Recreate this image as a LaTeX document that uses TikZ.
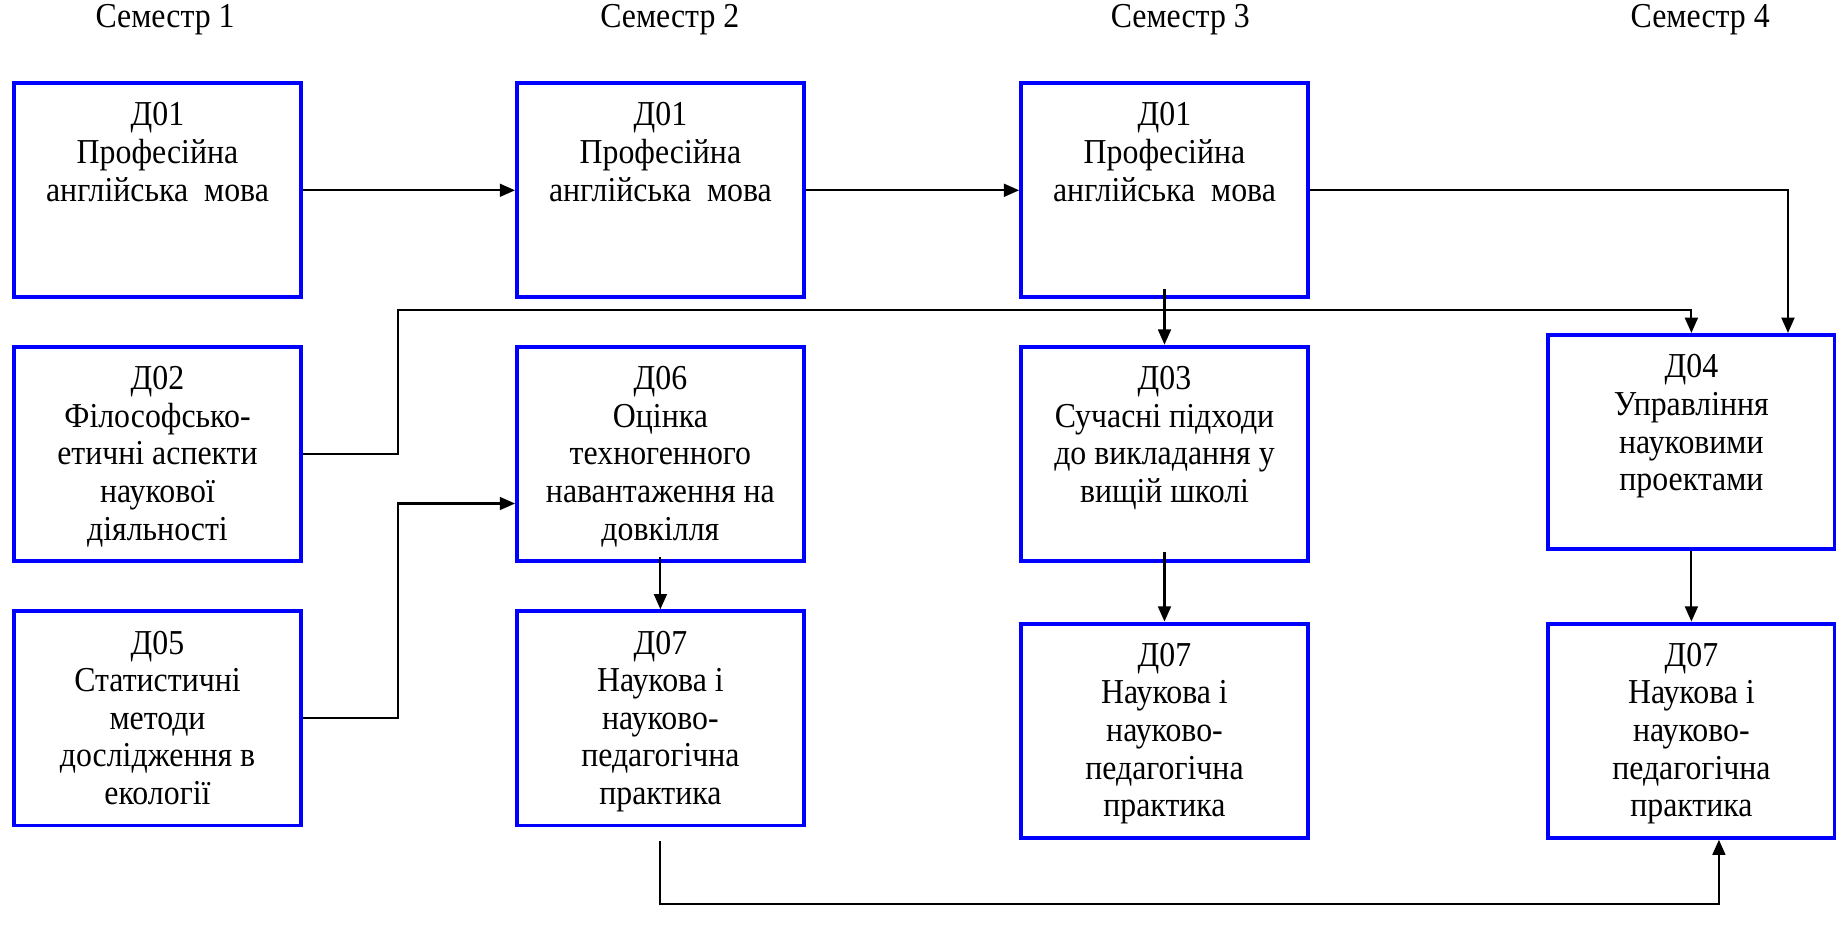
\documentclass[tikz,border=0pt]{standalone}
\usepackage{fontspec}
\setmainfont[FakeStretch=0.91]{Liberation Serif}
\usetikzlibrary{positioning,arrows.meta}

\begin{document}
\begin{tikzpicture}[x=0.02cm, y=-0.02cm,
  every node/.style={font=\fontsize{17}{18.3}\selectfont},
  box/.style={draw=blue, line width=1.9pt, minimum width=4.9cm, minimum height=3.66cm},
  txt/.style={align=center, inner sep=0pt},
  arr/.style={line width=1pt, -{Triangle[length=2.6mm,width=2.2mm]}}]
\useasboundingbox (0,0) rectangle (1568,799);

\node (s1) at (141,17) {Семестр 1};
\node (s2) at (572,17) {Семестр 2};
\node (s3) at (1008,17) {Семестр 3};
\node (s4) at (1452,17) {Семестр 4};

\node[box] (d01a) at (134.5,162.5) {};
\node[box] (d01b) at (564,162.5) {};
\node[box] (d01c) at (994.5,162.5) {};
\node[box] (d02) at (134.5,387.5) {};
\node[box] (d06) at (564,387.5) {};
\node[box] (d03) at (994.5,387.5) {};
\node[box] (d04) at (1444.5,377.5) {};
\node[box] (d05) at (134.5,613.5) {};
\node[box] (d07b) at (564,613.5) {};
\node[box] (d07c) at (994.5,624) {};
\node[box] (d07d) at (1444.5,624) {};

\node[txt, below=0.36cm of d01a.north] (t01a) {Д01\\Професійна\\англійська\ \ мова};
\node[txt, below=0.36cm of d01b.north] (t01b) {Д01\\Професійна\\англійська\ \ мова};
\node[txt, below=0.36cm of d01c.north] (t01c) {Д01\\Професійна\\англійська\ \ мова};
\node[txt, below=0.36cm of d02.north] (t02) {Д02\\Філософсько-\\етичні аспекти\\наукової\\діяльності};
\node[txt, below=0.36cm of d06.north] (t06) {Д06\\Оцінка\\техногенного\\навантаження на\\довкілля};
\node[txt, below=0.36cm of d03.north] (t03) {Д03\\Сучасні підходи\\до викладання у\\вищій школі};
\node[txt, below=0.36cm of d04.north] (t04) {Д04\\Управління\\науковими\\проектами};
\node[txt, below=0.36cm of d05.north] (t05) {Д05\\Статистичні\\методи\\дослідження в\\екології};
\node[txt, below=0.36cm of d07b.north] (t07b) {Д07\\Наукова і\\науково-\\педагогічна\\практика};
\node[txt, below=0.36cm of d07c.north] (t07c) {Д07\\Наукова і\\науково-\\педагогічна\\практика};
\node[txt, below=0.36cm of d07d.north] (t07d) {Д07\\Наукова і\\науково-\\педагогічна\\практика};

\coordinate (j1) at (340,265);
\coordinate (j2) at (340,430);

\draw[arr] (d01a) -- (d01b);
\draw[arr] (d01b) -- (d01c);
\draw[arr] (d01c.east) -| ([xshift=1.65cm]d04.north);
\draw[arr] ([yshift=0.18cm]d01c.south) -- (d03.north);
\draw[arr] (d02.east) -| (j1) -| (d04.north);
\draw[arr] (d05.east) -| (j2) -- (j2 -| d06.west);
\draw[arr] ([yshift=0.1cm]d06.south) -- (d07b.north);
\draw[arr] ([yshift=0.18cm]d03.south) -- (d07c.north);
\draw[arr] (d04.south) -- (d07d.north);
\draw[arr] ([yshift=-0.24cm]d07b.south) -- ++(0,53) -| ([xshift=0.47cm]d07d.south);
\end{tikzpicture}
\end{document}
